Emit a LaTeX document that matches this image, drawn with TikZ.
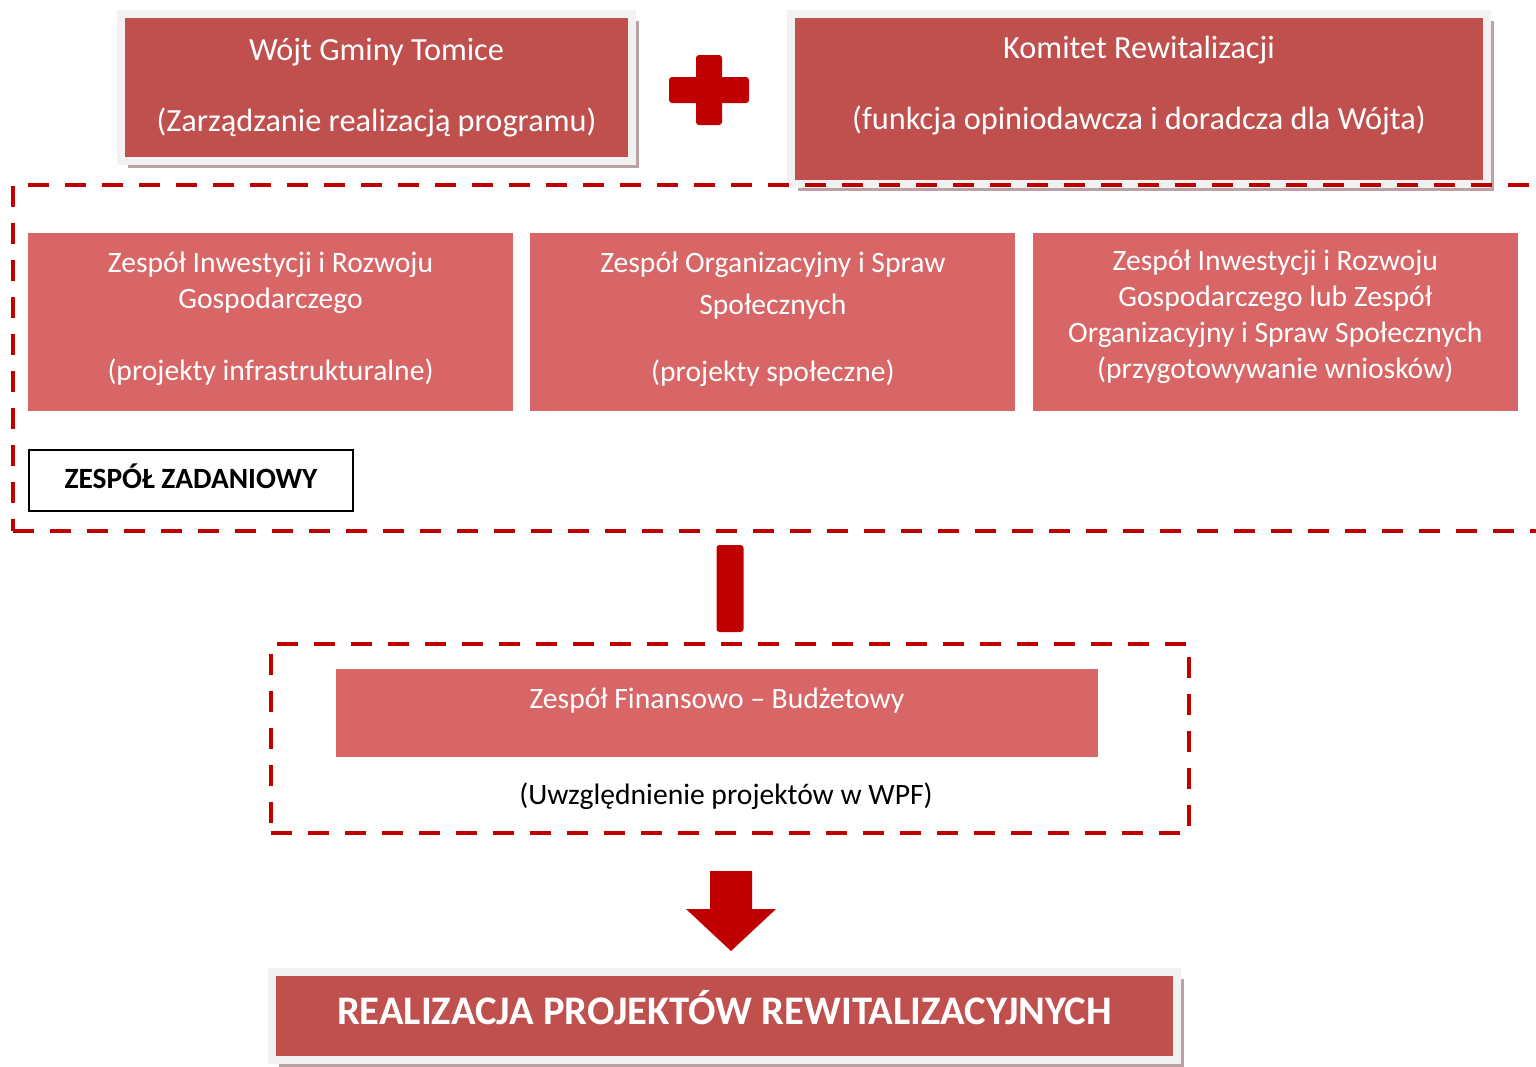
\documentclass[tikz,border=0pt]{standalone}
\usepackage{fontspec}
\setmainfont{Carlito}
\usetikzlibrary{positioning,calc,shadows}
\definecolor{boxred}{HTML}{C0504D}
\definecolor{teamred}{HTML}{D96666}
\definecolor{dashred}{HTML}{C00000}
\definecolor{framegrey}{HTML}{F2F2F2}
\definecolor{shadowgrey}{HTML}{B9A3A4}
\newcommand{\bigboxfont}{\fontsize{32.3}{35.5}\selectfont}
\newcommand{\teamboxfont}{\fontsize{29.6}{36}\selectfont}

\begin{document}
\begin{tikzpicture}[x=1pt, y=-1pt, node distance=17pt,
        topbox/.style={draw=framegrey, line width=8pt, fill=boxred, text=white, font=\bigboxfont,
            align=center, inner sep=0pt, outer sep=0pt,
            drop shadow={shadow xshift=6.5pt, shadow yshift=-6.5pt, fill=shadowgrey, opacity=1}},
        teambox/.style={fill=teamred, text=white, font=\teamboxfont, align=center, inner sep=0pt,
            minimum width=485pt, minimum height=178pt},
        dashbox/.style={draw=dashred, line width=4.5pt, dash pattern=on 21pt off 16pt, outer sep=0pt},
        tagbox/.style={draw=black, line width=2pt, fill=white, font=\fontsize{29.4}{32}\selectfont\bfseries,
            minimum width=324pt, inner sep=0pt, text height=38.5pt, text depth=22.5pt}
    ]
    \useasboundingbox (0,0) rectangle (1536,1066);

    % top row
    \node [topbox, minimum width=511pt, minimum height=147pt] (wojt) at (376.5,87.5)
        {Wójt Gminy Tomice\\[35.5pt](Zarządzanie realizacją programu)};
    \node [topbox, minimum width=696pt, minimum height=170pt] (komitet) at (1139,99)
        {Komitet Rewitalizacji\\[35.5pt](funkcja opiniodawcza i doradcza dla Wójta)\\[-3pt]\mbox{}};
    \coordinate (plus) at (709,90);
    \fill [dashred, rounded corners=3pt] ([xshift=-40pt,yshift=13pt]plus) rectangle ([xshift=40pt,yshift=-13pt]plus);
    \fill [dashred, rounded corners=3pt] ([xshift=-13pt,yshift=35pt]plus) rectangle ([xshift=13pt,yshift=-35pt]plus);

    % task team
    \node [dashbox, minimum width=1547pt, minimum height=346pt] (taskarea) at (786.5,358) {};
    \node [teambox] (invest) at (270.5,322)
        {Zespół Inwestycji i Rozwoju\\Gospodarczego\\[36pt](projekty infrastrukturalne)\\[-25pt]\mbox{}};
    \node [teambox, right=of invest] (social)
        {Zespół Organizacyjny i Spraw\\[6pt]Społecznych\\[31pt](projekty społeczne)\\[-25pt]\mbox{}};
    \node [teambox, right=of social] (either)
        {Zespół Inwestycji i Rozwoju\\Gospodarczego lub Zespół\\Organizacyjny i Spraw Społecznych\\(przygotowywanie wniosków)\\[-21pt]\mbox{}};
    \node [tagbox] (tasklabel) at (191,480.5) {ZESPÓŁ ZADANIOWY};

    % finance team
    \node [dashbox, minimum width=918pt, minimum height=189pt] (finarea) at (730,738.5) {};
    \node [fill=teamred, text=white, font=\teamboxfont, minimum width=762pt, inner sep=0pt,
        text height=39pt, text depth=49pt] (finbox) at (717,713) {Zespół Finansowo -- Budżetowy};
    \node [font=\teamboxfont] (wpfnote) at (726,796) {(Uwzględnienie projektów w WPF)};

    \coordinate (bartop) at (finarea.north |- taskarea.south);
    \fill [dashred, rounded corners=3pt] ([xshift=-13.5pt,yshift=-14pt]bartop)
        rectangle ([xshift=13.5pt,yshift=12pt]finarea.north);

    % result
    \node [topbox, minimum width=905pt, font=\fontsize{40.6}{44}\selectfont\bfseries,
        text height=52pt, text depth=36pt] (result) at (724.5,1016) {REALIZACJA PROJEKTÓW REWITALIZACYJNYCH};

    \coordinate (arrtop) at ([xshift=1pt,yshift=-38pt]finarea.south);
    \coordinate (arrtip) at ([xshift=6.5pt,yshift=21pt]result.north);
    \fill [dashred] (arrtop) ++(-21,0) -- ++(42,0) -- ++(0,38) -- ++(24,0) -- (arrtip)
        -- ++(-45,-42) -- ++(24,0) -- cycle;
\end{tikzpicture}
\end{document}
